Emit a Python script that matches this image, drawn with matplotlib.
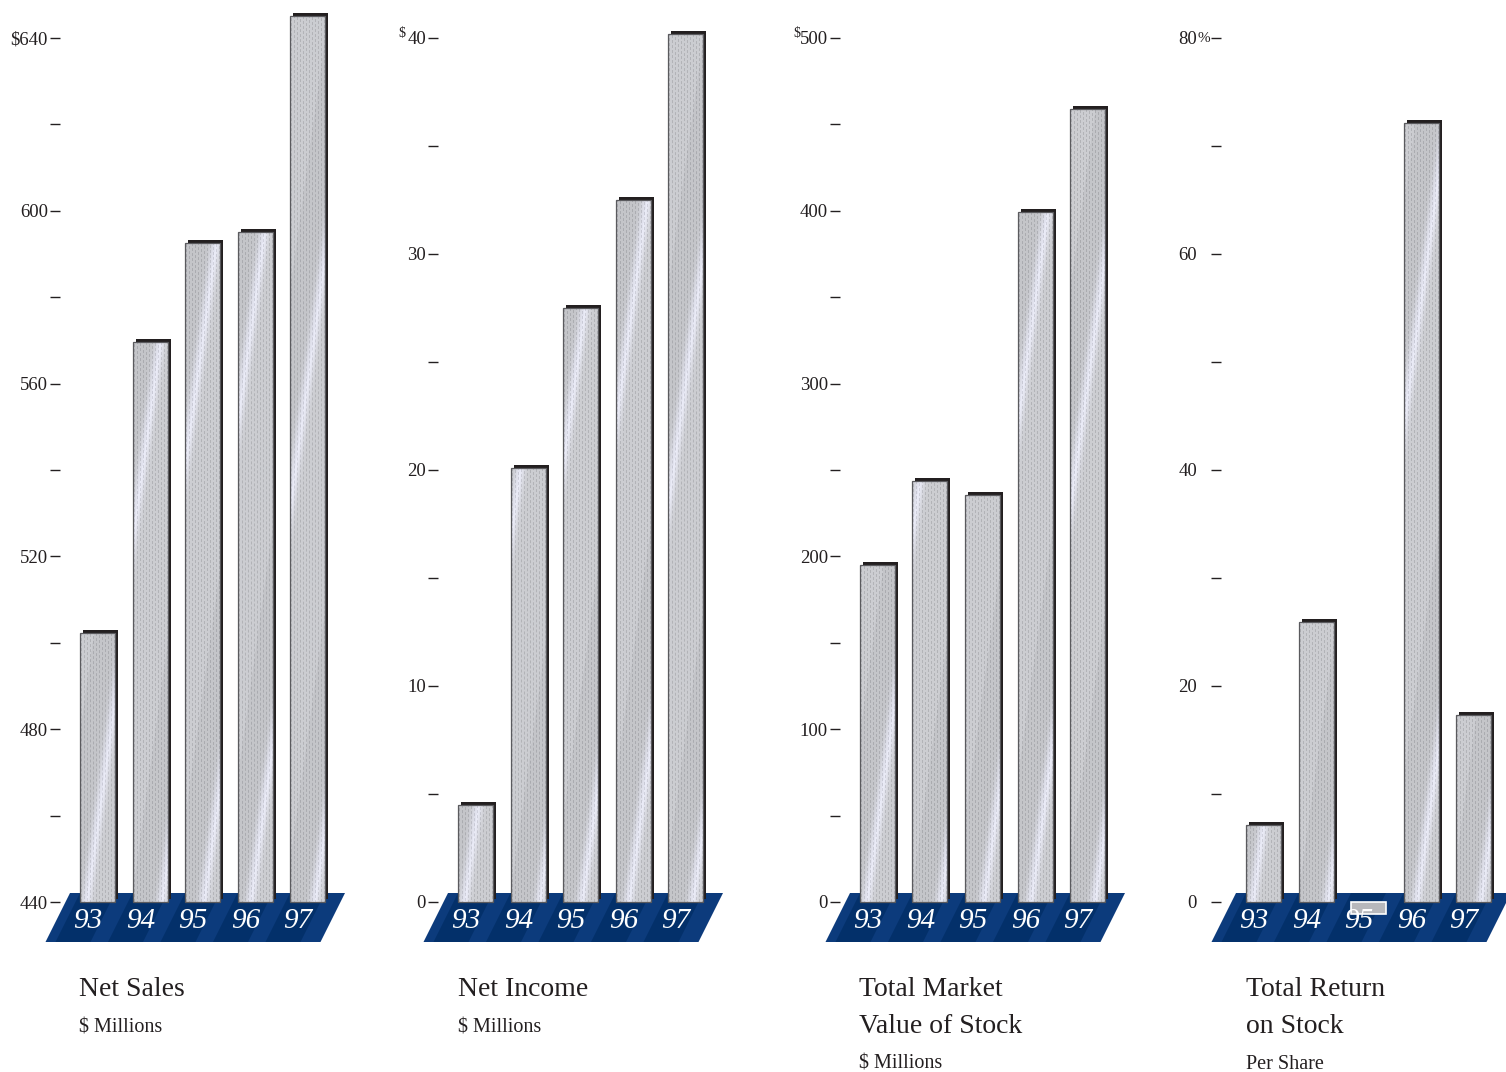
import numpy as np
import matplotlib
matplotlib.use('Agg')
import matplotlib.pyplot as plt
from matplotlib.patches import Polygon
from matplotlib.transforms import ScaledTranslation

years = ['93', '94', '95', '96', '97']
net_sales = [502.3, 569.6, 592.5, 595.1, 645.1]
net_income = [4.5, 20.1, 27.5, 32.5, 40.2]
market_value = [195.0, 243.6, 235.5, 399.3, 458.9]
total_return = [7.1, 25.9, -1.1, 72.1, 17.3]

sales_ticks = [440, 460, 480, 500, 520, 540, 560, 580, 600, 620, 640]
sales_labels = ['440', '', '480', '', '520', '', '560', '', '600', '', '\\$640']
income_ticks = [0, 5, 10, 15, 20, 25, 30, 35, 40]
income_labels = ['0', '', '10', '', '20', '', '30', '', '40']
value_ticks = [0, 50, 100, 150, 200, 250, 300, 350, 400, 450, 500]
value_labels = ['0', '', '100', '', '200', '', '300', '', '400', '', '500']
return_ticks = [0, 10, 20, 30, 40, 50, 60, 70, 80]
return_labels = ['0', '', '20', '', '40', '', '60', '', '80']

titles = [['Net Sales'], ['Net Income'], ['Total Market', 'Value of Stock'], ['Total Return', 'on Stock']]
units = ['$ Millions', '$ Millions', '$ Millions', 'Per Share']

W, H = 1506, 1072
ZERO_Y, TOP_Y = 902, 38          # pixel rows of the baseline and top tick
PITCH = 52.5                     # px between bar centres
BAR_W = 35 / PITCH
INK = '#231f20'
NAVY = '#0c3b7c'
NAVY_DK = '#03306a'
SERIF = 'Liberation Serif'

fig = plt.figure(figsize=(W / 100, H / 100), dpi=100)
fig.patch.set_facecolor('white')


def face_texture(w_px, h_px, phase):
    yy, xx = np.mgrid[0:h_px, 0:w_px]
    g = np.full((h_px, w_px), 0.80)
    dots = ((xx % 3) == 1) & (((yy + (xx // 3) * 2) % 5) < 3)
    g = g - 0.10 * dots
    d = ((xx - 0.14 * yy - phase + 40) % 80) - 40
    sheen = np.exp(-(d / 5.0) ** 2)
    shade = (d < 0) & (d > -30)
    g = g + 0.12 * sheen - 0.03 * shade
    rgb = np.dstack([g, g + 0.004, g + 0.02 + 0.03 * sheen])
    return np.clip(rgb, 0, 1)


def panel(left_px, c0, base, top, values, ticks, labels, pad_pt):
    ppu = (ZERO_Y - TOP_Y) / (top - base)
    right_px = c0 + 270
    ax = fig.add_axes([left_px / W, (H - 950) / H, (right_px - left_px) / W, 945 / H])
    for s in ax.spines.values():
        s.set_visible(False)
    ax.set_xticks([])
    ax.set_yticks(ticks)
    ax.set_yticklabels(labels, fontfamily=SERIF, fontsize=13.5, color=INK)
    ax.tick_params(axis='y', length=7.2, width=1.0, color=INK, pad=pad_pt)
    ax.patch.set_alpha(0)

    # navy floor under the bars
    y_top = base + 9 / ppu
    y_bot = base - 40 / ppu
    slant = 24.5 / PITCH
    x_l = -27.5 / PITCH
    x_r = 247.5 / PITCH
    floor = Polygon([(x_l, y_top), (x_r, y_top), (x_r - slant, y_bot), (x_l - slant, y_bot)],
                    closed=True, facecolor=NAVY, edgecolor='none', zorder=1, clip_on=False)
    ax.add_patch(floor)
    for i in range(len(values)):
        a, b = i - BAR_W / 2, i + BAR_W / 2
        ax.add_patch(Polygon([(a, y_top), (b, y_top), (b - slant, y_bot), (a - slant, y_bot)],
                             closed=True, facecolor=NAVY_DK, edgecolor='none', zorder=1.5,
                             clip_on=False))

    shift = ax.transData + ScaledTranslation(0.03, 0.03, fig.dpi_scale_trans)
    phases = [6, 28, 18, 12, 24]
    for i, v in enumerate(values):
        h = v - base
        if h > 0:
            ax.bar(i, h, bottom=base, width=BAR_W, color=INK, zorder=2, transform=shift)
            face = ax.bar(i, h, bottom=base, width=BAR_W, facecolor='none',
                          edgecolor='#5a5a5e', linewidth=0.9, zorder=4)[0]
            h_px = max(int(round(h * ppu)), 2)
            im = ax.imshow(face_texture(35, h_px, phases[i]),
                           extent=[i - BAR_W / 2, i + BAR_W / 2, base, v], origin='lower',
                           aspect='auto', interpolation='bilinear', zorder=3)
            im.set_clip_path(face)
        else:
            ax.bar(i, h, bottom=base, width=BAR_W, facecolor='#b7b8bc',
                   edgecolor='white', linewidth=1.2, zorder=4)
        ax.text(i - 0.18, base - 19 / ppu, years[i], color='white', fontsize=21,
                fontfamily=SERIF, fontstyle='italic', ha='center', va='center', zorder=5)

    ax.set_xlim((left_px - c0) / PITCH, (right_px - c0) / PITCH)
    ax.set_ylim(base - (950 - ZERO_Y) / ppu, base + (ZERO_Y - 5) / ppu)
    return ax


ax1 = panel(60, 97.5, 440, 640, net_sales, sales_ticks, sales_labels, 1.5)
ax2 = panel(438, 475.5, 0, 40, net_income, income_ticks, income_labels, 1.5)
ax3 = panel(840, 877.5, 0, 500, market_value, value_ticks, value_labels, 1.5)
ax4 = panel(1221, 1263.5, 0, 80, total_return, return_ticks, return_labels, 10)

# small raised dollar signs and the percent sign on the top labels
ax2.annotate('$', xy=(0, 40), xycoords=('axes fraction', 'data'), xytext=(-33, 4),
             textcoords='offset pixels', ha='right', va='center', fontsize=10,
             fontfamily=SERIF, color=INK)
ax3.annotate('$', xy=(0, 500), xycoords=('axes fraction', 'data'), xytext=(-40, 4),
             textcoords='offset pixels', ha='right', va='center', fontsize=10,
             fontfamily=SERIF, color=INK)
ax4.annotate('%', xy=(0, 80), xycoords=('axes fraction', 'data'), xytext=(-23, -1),
             textcoords='offset pixels', ha='left', va='center', fontsize=11,
             fontfamily=SERIF, color=INK)

title_x = [79, 458, 859, 1246]
for x, lines, unit in zip(title_x, titles, units):
    y = 996
    for line in lines:
        fig.text(x / W, 1 - y / H, line, fontsize=20, fontfamily=SERIF, color=INK,
                 ha='left', va='baseline')
        y += 37
    fig.text(x / W, 1 - (y - 1) / H, unit, fontsize=14.5, fontfamily=SERIF, color=INK,
             ha='left', va='baseline')

fig.savefig('out.png', dpi=100, facecolor='white')
